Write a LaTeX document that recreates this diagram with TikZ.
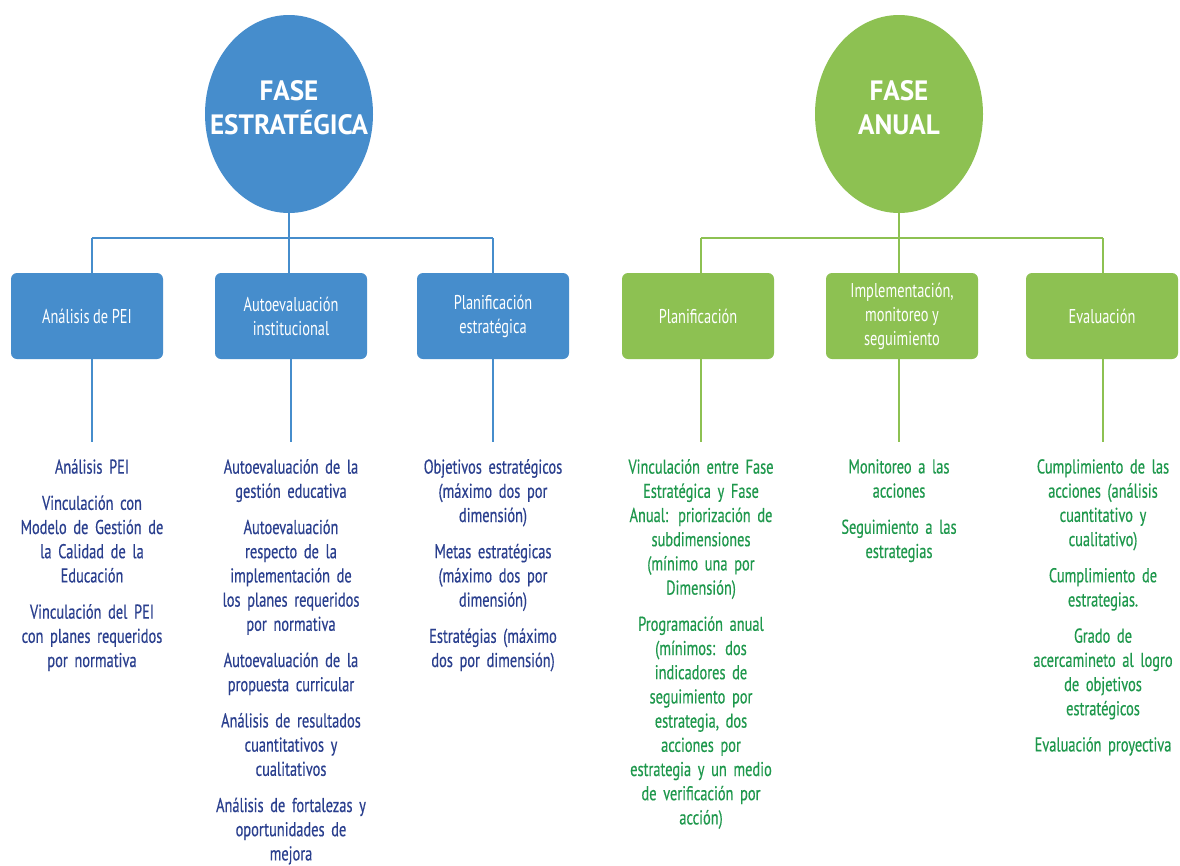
\documentclass[tikz,border=0pt]{standalone}
\usepackage{fontspec}
\setmainfont[FakeStretch=0.72,FakeBold=0.4]{PT Sans}
\newfontfamily\boxfont[FakeStretch=0.72]{PT Sans}
\newfontfamily\headfont[FakeStretch=0.97]{PT Sans}
\usetikzlibrary{positioning,shapes.geometric}
% word spacing set on the font itself
\newcommand\boxspaces{\fontdimen2\font=3.6pt\relax\fontdimen3\font=0pt\relax}
\newcommand\itemspaces{\fontdimen2\font=2.6pt\relax\fontdimen3\font=0pt\relax}
\definecolor{estblue}{HTML}{468DCC}
\definecolor{anugreen}{HTML}{8DC152}
\definecolor{navytext}{HTML}{2A3F8E}
\definecolor{greentext}{HTML}{1E984C}
\tikzset{
  phase/.style={ellipse, minimum width=168pt, minimum height=198pt, inner sep=0pt},
  phasetext/.style={text=white, align=center, inner sep=0pt,
    font=\headfont\bfseries\fontsize{28}{34}\selectfont},
  stage/.style={rounded corners=6pt, minimum width=152pt, minimum height=86pt,
    inner sep=2pt, text=white, align=center,
    font=\boxfont\fontsize{20}{24}\selectfont\boxspaces},
  items/.style={anchor=north, align=center, inner sep=0pt, text width=160pt,
    font=\fontsize{20}{24.2}\selectfont\itemspaces},
  link/.style={line width=2pt},
}
\begin{document}
\begin{tikzpicture}[x=1pt,y=-1pt]
\useasboundingbox (0,0) rectangle (1180,865);
\fill[white] (0,0) rectangle (1180,865);

% ---------- Fase estratégica ----------
\node[phase, fill=estblue] (est) at (289,114) {};
\node[phasetext] (estl) at (289,108) {FASE\\ESTRATÉGICA};
\node[stage, fill=estblue] (b1) at (87,316) {Análisis de PEI};
\node[stage, fill=estblue] (b2) at (291,316) {Autoevaluación\\institucional};
\node[stage, fill=estblue] (b3) at (493,316) {Planificación\\estratégica};
\coordinate (ebar) at (289,238);
\coordinate (eb1) at (92,238);
\coordinate (eb3) at (493,238);
\draw[link, estblue] (est.south) -- (ebar);
\draw[link, estblue] (eb1) -- (eb3);
\draw[link, estblue] (eb1) -- (eb1 |- b1.north);
\draw[link, estblue] (ebar) -- (ebar |- b2.north);
\draw[link, estblue] (eb3) -- (b3.north);
\coordinate (e1) at (92,442);
\coordinate (e2) at (291,442);
\coordinate (e3) at (493,442);
\draw[link, estblue] (e1 |- b1.south) -- (e1);
\draw[link, estblue] (b2.south) -- (e2);
\draw[link, estblue] (b3.south) -- (e3);

\node[items, text=navytext] (t1) at (92,459)
  {Análisis PEI\\[12pt]
   Vinculación con\\Modelo de Gestión de\\la Calidad de la\\Educación\\[12pt]
   Vinculación del PEI\\con planes requeridos\\por normativa};
\node[items, text=navytext] (t2) at (291,459)
  {Autoevaluación de la\\gestión educativa\\[12pt]
   Autoevaluación\\respecto de la\\implementación de\\los planes requeridos\\por normativa\\[12pt]
   Autoevaluación de la\\propuesta curricular\\[12pt]
   Análisis de resultados\\cuantitativos y\\cualitativos\\[12pt]
   Análisis de fortalezas y\\oportunidades de\\mejora};
\node[items, text=navytext] (t3) at (493,459)
  {Objetivos estratégicos\\(máximo dos por\\dimensión)\\[12pt]
   Metas estratégicas\\(máximo dos por\\dimensión)\\[12pt]
   Estratégias (máximo\\dos por dimensión)};

% ---------- Fase anual ----------
\node[phase, fill=anugreen] (anu) at (899,114) {};
\node[phasetext] (anul) at (899,108) {FASE\\ANUAL};
\node[stage, fill=anugreen] (g1) at (698,316) {Planificación};
\node[stage, fill=anugreen] (g2) at (902,316) {Implementación,\\monitoreo y\\seguimiento};
\node[stage, fill=anugreen] (g3) at (1102,316) {Evaluación};
\coordinate (gbar) at (899,238);
\coordinate (gb1) at (701,238);
\coordinate (gb3) at (1103,238);
\draw[link, anugreen] (anu.south) -- (gbar);
\draw[link, anugreen] (gb1) -- (gb3);
\draw[link, anugreen] (gb1) -- (gb1 |- g1.north);
\draw[link, anugreen] (gbar) -- (gbar |- g2.north);
\draw[link, anugreen] (gb3) -- (gb3 |- g3.north);
\coordinate (f1) at (701,442);
\coordinate (f2) at (899,442);
\coordinate (f3) at (1103,442);
\draw[link, anugreen] (f1 |- g1.south) -- (f1);
\draw[link, anugreen] (f2 |- g2.south) -- (f2);
\draw[link, anugreen] (f3 |- g3.south) -- (f3);

\node[items, text=greentext] (s1) at (701,459)
  {Vinculación entre Fase\\Estratégica y Fase\\Anual: priorización de\\subdimensiones\\(mínimo una por\\Dimensión)\\[12pt]
   Programación anual\\(mínimos: dos\\indicadores de\\seguimiento por\\estrategia, dos\\acciones por\\estrategia y un medio\\de verificación por\\acción)};
\node[items, text=greentext] (s2) at (899,459)
  {Monitoreo a las\\acciones\\[12pt]
   Seguimiento a las\\estrategias};
\node[items, text=greentext] (s3) at (1103,459)
  {Cumplimiento de las\\acciones (análisis\\cuantitativo y\\cualitativo)\\[12pt]
   Cumplimiento de\\estrategias.\\[12pt]
   Grado de\\acercamineto al logro\\de objetivos\\estratégicos\\[12pt]
   Evaluación proyectiva};
\end{tikzpicture}
\end{document}
